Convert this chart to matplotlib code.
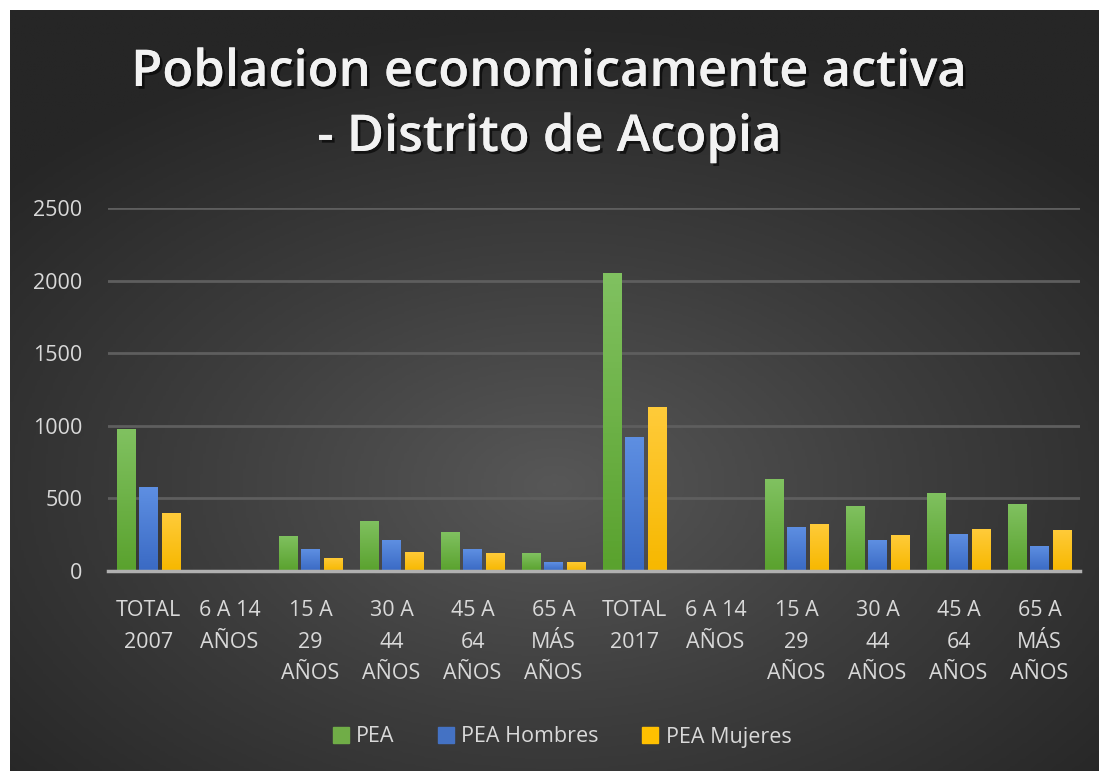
import numpy as np
import matplotlib
matplotlib.use("Agg")
import matplotlib.pyplot as plt
from matplotlib.colors import LinearSegmentedColormap
import matplotlib.patheffects as pe

plt.rcParams["font.family"] = ["Open Sans", "DejaVu Sans"]

categories = [
    "TOTAL\n2007", "6 A 14\nAÑOS", "15 A\n29\nAÑOS", "30 A\n44\nAÑOS", "45 A\n64\nAÑOS", "65 A\nMÁS\nAÑOS",
    "TOTAL\n2017", "6 A 14\nAÑOS", "15 A\n29\nAÑOS", "30 A\n44\nAÑOS", "45 A\n64\nAÑOS", "65 A\nMÁS\nAÑOS",
]
pea = [976, 5, 243, 347, 266, 122, 2055, 0, 631, 448, 539, 459]
pea_hombres = [581, 2, 151, 211, 151, 60, 925, 0, 305, 213, 255, 174]
pea_mujeres = [397, 3, 92, 131, 122, 62, 1132, 0, 326, 246, 287, 285]
series_names = ["PEA", "PEA Hombres", "PEA Mujeres"]
yticks = [0, 500, 1000, 1500, 2000, 2500]
title_lines = ["Poblacion economicamente activa", "- Distrito de Acopia"]

colors = ["#70ad47", "#4472c4", "#ffc000"]
grad_top = ["#80c160", "#5e8fe2", "#ffcb3a"]
grad_bot = ["#5aa22e", "#3a6ac4", "#f7b800"]
text_col = "#d9d9d9"

fig = plt.figure(figsize=(10.99, 7.71), dpi=100)
fig.patch.set_facecolor("white")

# dark radial background (chart area starts 10px in from top/left)
bg = fig.add_axes([10 / 1099, 0, 1 - 10 / 1099, 1 - 10 / 771])
gx, gy = np.meshgrid(np.linspace(-1, 1, 400), np.linspace(-1, 1, 300))
r = np.sqrt((gx * 1.0) ** 2 + ((gy + 0.25) * 1.1) ** 2)
r = np.clip(r / 1.35, 0, 1)
bg_cmap = LinearSegmentedColormap.from_list("bg", ["#575757", "#3d3d3d", "#262626"])
bg.imshow(r, cmap=bg_cmap, aspect="auto", extent=[0, 1, 0, 1], origin="lower")
bg.set_axis_off()

ax = fig.add_axes([108 / 1099, 1 - 571 / 771, (1080 - 108) / 1099, (571 - 208) / 771])
ax.set_facecolor("none")

x = np.arange(len(categories))
width = 0.228
step = 0.28
all_series = [pea, pea_hombres, pea_mujeres]
for i, vals in enumerate(all_series):
    bars = ax.bar(x + (i - 1) * step, vals, width, color=colors[i], label=series_names[i], zorder=3)
    cm = LinearSegmentedColormap.from_list("g%d" % i, [grad_bot[i], grad_top[i]])
    for b in bars:
        h = b.get_height()
        if h <= 0:
            continue
        im = ax.imshow(np.linspace(0, 1, 50).reshape(-1, 1), cmap=cm, aspect="auto",
                       extent=[b.get_x(), b.get_x() + b.get_width(), 0, h],
                       origin="lower", zorder=3.5)
        im.set_clip_path(b)

ax.set_xlim(-0.5, len(categories) - 0.5)
ax.set_ylim(0, 2500)
ax.set_yticks(yticks)
ax.set_xticks(x)
ax.set_xticklabels(categories, fontsize=15.5, color=text_col, linespacing=1.65, va="top")
ax.tick_params(axis="y", labelsize=15.5, labelcolor=text_col, length=0, pad=18.5)
ax.tick_params(axis="x", length=0, pad=21)
ax.grid(axis="y", color="#5e5e5e", linewidth=2, zorder=0)
for s in ["top", "right", "left"]:
    ax.spines[s].set_visible(False)
ax.spines["bottom"].set_color("#b0b0b0")
ax.spines["bottom"].set_linewidth(2.5)
ax.spines["bottom"].set_zorder(4)

shadow = [pe.withSimplePatchShadow(offset=(2, -2), shadow_rgbFace="black", alpha=0.6), pe.Normal()]
for line, ypx in zip(title_lines, [86, 151]):
    fig.text(0.5, 1 - ypx / 771, line, ha="center", va="baseline", fontsize=36.5,
             fontweight="semibold", color="#f2f2f2", path_effects=shadow)

leg = fig.legend(loc="center", bbox_to_anchor=(562 / 1099, 1 - 737 / 771), ncol=3,
                 frameon=False, fontsize=15.5, handlelength=0.75, handleheight=0.75,
                 handletextpad=0.35, columnspacing=2.0, labelcolor=text_col)
for h, c in zip(leg.legend_handles, colors):
    h.set_color(c)

fig.savefig("out.png", dpi=100)
